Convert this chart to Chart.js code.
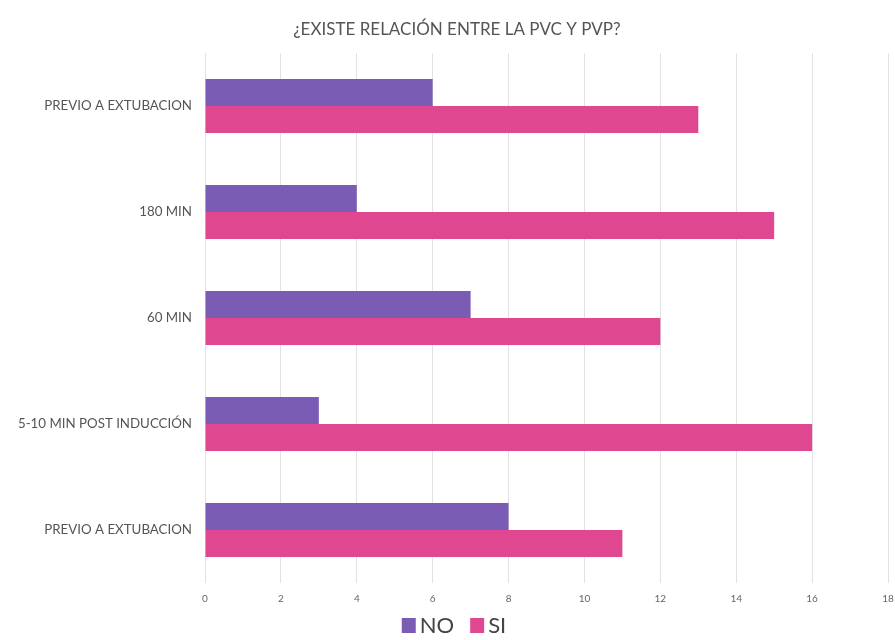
<!DOCTYPE html>
<html>
<head>
<meta charset="utf-8">
<script src="https://cdn.jsdelivr.net/npm/chart.js@4"></script>
<style>
  html, body { margin: 0; padding: 0; background: #ffffff; }
  #wrap { width: 895px; height: 640px; position: relative; }
</style>
</head>
<body>
<div id="wrap"><canvas id="c" width="895" height="640"></canvas></div>
<script>
// Categories (top to bottom) and series values
const categories = [
  'PREVIO A EXTUBACION',
  '180 MIN',
  '60 MIN',
  '5-10 MIN POST INDUCCIÓN',
  'PREVIO A EXTUBACION'
];
const seriesNo = [6, 4, 7, 3, 8];
const seriesSi = [13, 15, 12, 16, 11];
const xTicks = [0, 2, 4, 6, 8, 10, 12, 14, 16, 18];
const chartTitle = '¿EXISTE RELACIÓN ENTRE LA PVC Y PVP?';

const FONT = "Lato, 'Open Sans', sans-serif";

// Title and a compact legend drawn on the canvas, with tighter spacing
// between swatch and label than the built-in legend allows.
const headerFooter = {
  id: 'headerFooter',
  afterDraw(chart) {
    const ctx = chart.ctx;
    ctx.save();
    ctx.fillStyle = '#555555';
    ctx.font = `17px ${FONT}`;
    ctx.textAlign = 'center';
    ctx.textBaseline = 'middle';
    ctx.fillText(chartTitle, 457, 30);

    // legend
    ctx.font = `22px ${FONT}`;
    ctx.textAlign = 'left';
    const box = 14, gapText = 4, gapItem = 16;
    const items = chart.data.datasets.map(d => ({ label: d.label, color: d.backgroundColor }));
    const widths = items.map(it => box + gapText + ctx.measureText(it.label).width);
    const total = widths.reduce((a, b) => a + b, 0) + gapItem * (items.length - 1);
    let x = 454 - total / 2;
    const yMid = 625;
    items.forEach((it, i) => {
      ctx.fillStyle = it.color;
      ctx.fillRect(x, yMid - box / 2, box, box + 1);
      ctx.fillStyle = '#444444';
      ctx.fillText(it.label, x + box + gapText, yMid + 1);
      x += widths[i] + gapItem;
    });
    ctx.restore();
  }
};

new Chart(document.getElementById('c'), {
  type: 'bar',
  data: {
    labels: categories,
    datasets: [
      { label: 'NO', data: seriesNo, backgroundColor: '#7b5cb4', borderWidth: 0 },
      { label: 'SI', data: seriesSi, backgroundColor: '#df4890', borderWidth: 0 }
    ]
  },
  options: {
    indexAxis: 'y',
    responsive: false,
    animation: false,
    devicePixelRatio: 1,
    layout: { padding: { left: 0, right: 0, top: 53, bottom: 32 } },
    datasets: { bar: { categoryPercentage: 0.51, barPercentage: 1.0 } },
    scales: {
      x: {
        min: 0, max: 18,
        afterBuildTicks: (s) => { s.ticks = xTicks.map(v => ({ value: v })); },
        afterFit: (s) => { s.height = 25; s.paddingRight = 7; s.paddingLeft = 0; },
        grid: { color: '#e2e2e2', lineWidth: 1, drawTicks: false },
        border: { display: false },
        ticks: { color: '#666666', font: { family: FONT, size: 10 }, padding: 10 }
      },
      y: {
        afterFit: (s) => { s.width = 205; s.paddingTop = 0; s.paddingBottom = 0; },
        grid: { display: false, drawTicks: false },
        border: { display: false },
        ticks: { color: '#555555', font: { family: FONT, size: 13.3 }, padding: 13 }
      }
    },
    plugins: {
      title: { display: false },
      legend: { display: false },
      tooltip: { enabled: false }
    }
  },
  plugins: [headerFooter]
});
</script>
</body>
</html>
